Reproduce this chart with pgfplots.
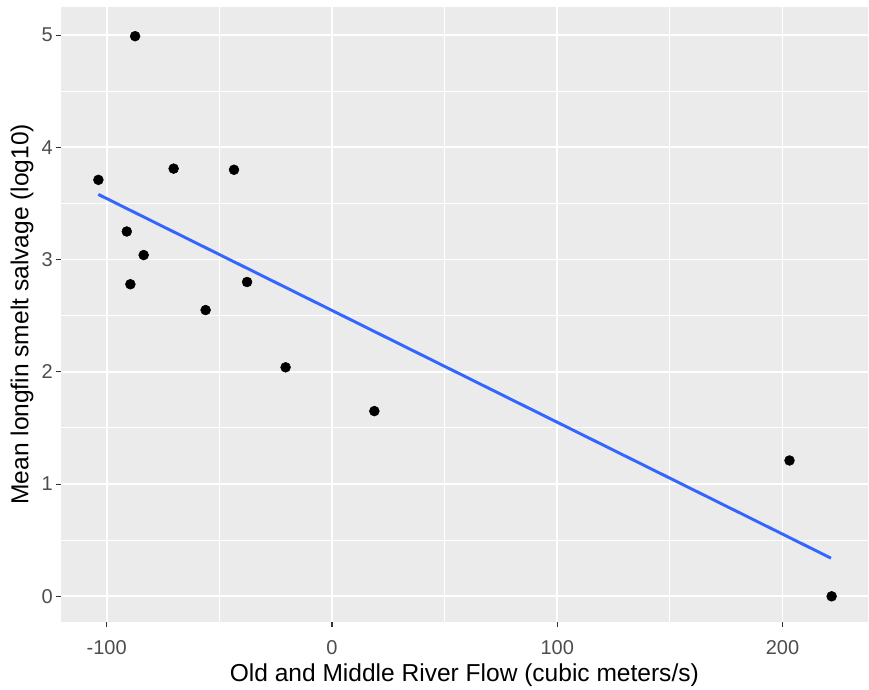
\documentclass[border=0pt]{standalone}
\usepackage{fontspec}
\setmainfont{Liberation Sans}
\usepackage{pgfplots}
\pgfplotsset{compat=1.18}
\usetikzlibrary{calc}

\definecolor{panel}{HTML}{EBEBEB}
\definecolor{ticktext}{HTML}{4D4D4D}
\definecolor{tickmark}{HTML}{333333}
\definecolor{fitline}{HTML}{3366FF}

\begin{document}
\begin{tikzpicture}
\begin{axis}[
  name=ax,
  scale only axis,
  width=605pt, height=461pt,
  xmin=-120.3, xmax=237.8,
  ymin=-0.226, ymax=5.25,
  xtick={-100,0,100,200},
  ytick={0,1,2,3,4,5},
  minor xtick={-50,50,150},
  minor ytick={0.5,1.5,2.5,3.5,4.5},
  axis background/.style={fill=panel},
  axis line style={draw=none},
  grid=both,
  major grid style={white, line width=1.4pt},
  minor grid style={white, line width=0.7pt},
  tick pos=left,
  tick align=outside,
  major tick length=4pt,
  minor tick length=0pt,
  tick style={tickmark, line width=0.8pt},
  /pgf/number format/assume math mode=true,
  ticklabel style={font=\fontsize{15}{18}\selectfont, text=ticktext},
  yticklabel style={inner sep=0pt, xshift=-2pt},
  xticklabel style={inner sep=0pt, yshift=-10pt},
  xlabel={Old and Middle River Flow (cubic meters/s)},
  ylabel={Mean longfin smelt salvage (log10)},
  label style={font=\fontsize{18.4}{22}\selectfont},
  xlabel style={yshift=-3pt},
  ylabel style={yshift=2.5pt},
  clip=false,
]
\addplot[fitline, line width=2.2pt] coordinates {
  (-103.7,3.58) (221.5,0.34)
};
\addplot[only marks, mark=*, mark size=3.7pt, black] coordinates {
  (-103.7,3.71)
  (-87.4,4.99)
  (-70.3,3.81)
  (-43.5,3.80)
  (-91.1,3.25)
  (-83.6,3.04)
  (-89.5,2.78)
  (-56.1,2.55)
  (-37.7,2.80)
  (-20.6,2.04)
  (18.8,1.65)
  (203.1,1.21)
  (221.8,0.00)
};
\end{axis}
\pgfresetboundingbox
\path[use as bounding box] ($(ax.south west)+(-45.75pt,-51.2pt)$) rectangle ($(ax.north east)+(1pt,5.25pt)$);
\end{tikzpicture}
\end{document}
